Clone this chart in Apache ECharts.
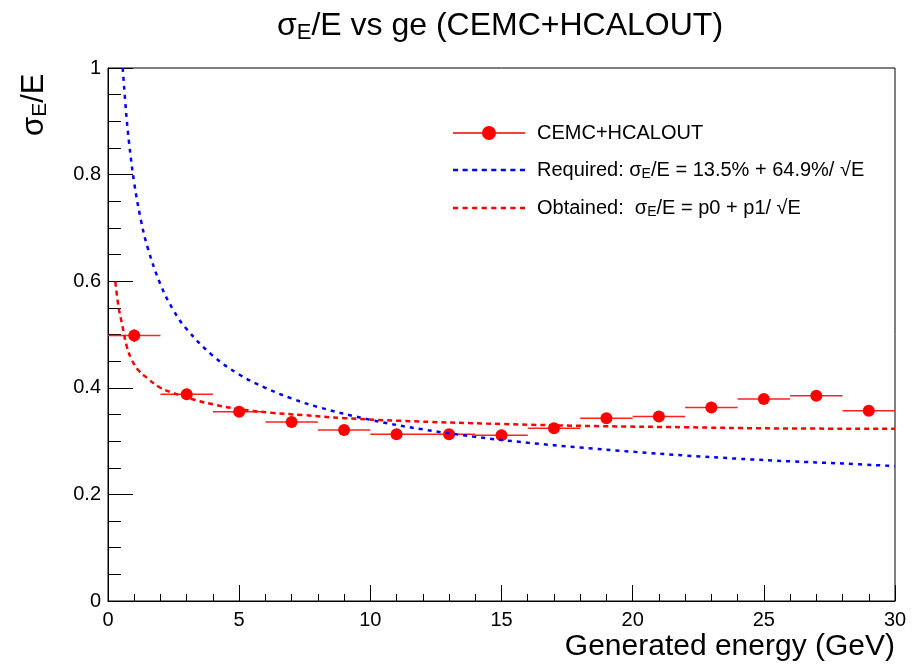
<!DOCTYPE html>
<html>
<head>
<meta charset="utf-8">
<script src="https://cdn.jsdelivr.net/npm/echarts@6/dist/echarts.min.js"></script>
<style>html,body{margin:0;padding:0;background:#fff}#c{width:923px;height:669px}</style>
</head>
<body>
<div id="c"></div>
<script>
// ---- data ----
const energies = [1, 3, 5, 7, 9, 11, 13, 15, 17, 19, 21, 23, 25, 27, 29];
const sigmaOverE = [0.498, 0.388, 0.355, 0.336, 0.321, 0.313, 0.313, 0.311, 0.324, 0.343, 0.346, 0.363, 0.379, 0.385, 0.357];
const xErr = [1, 1, 1, 1, 1, 1, 1, 1, 1, 1, 1, 1, 1, 1, 1];
const yErr = [0.012, 0.010, 0.009, 0.009, 0.009, 0.009, 0.009, 0.009, 0.009, 0.009, 0.009, 0.010, 0.010, 0.010, 0.010];

const requiredE = [0.56, 0.7, 0.8, 1.0, 1.25, 1.5, 2, 2.5, 3, 4, 5, 6, 7, 8, 10, 12, 14, 16, 18, 20, 22, 24, 26, 28, 30];
const requiredY = [1.0, 0.911, 0.861, 0.784, 0.716, 0.665, 0.594, 0.545, 0.510, 0.460, 0.425, 0.400, 0.380, 0.364, 0.340, 0.322, 0.308, 0.297, 0.288, 0.280, 0.273, 0.267, 0.262, 0.258, 0.253];

const obtainedE = [0.28, 0.4, 0.53, 0.72, 0.91, 1.16, 1.5, 1.93, 2.44, 3.33, 4.1, 5, 6.25, 7.4, 9, 11.2, 15, 18.8, 22, 25, 30];
const obtainedY = [0.599, 0.552, 0.521, 0.477, 0.452, 0.433, 0.418, 0.402, 0.391, 0.377, 0.368, 0.360, 0.353, 0.349, 0.343, 0.338, 0.332, 0.328, 0.326, 0.324, 0.323];

const xTicks = [0, 5, 10, 15, 20, 25, 30];
const yTicks = [0, 0.2, 0.4, 0.6, 0.8, 1];

const names = ['CEMC+HCALOUT', 'Required', 'Obtained'];
const legendTexts = {
  'CEMC+HCALOUT': '{t|CEMC+HCALOUT}',
  'Required': '{t|Required: σ}{s|E}{t|/E = 13.5% + 64.9%/ √E}',
  'Obtained': '{t|Obtained:  σ}{s|E}{t|/E = p0 + p1/ √E}'
};

// ---- build ----
const FONT = '"Liberation Sans", Arial, Helvetica, sans-serif';
const pointData = energies.map((e, i) => [e, sigmaOverE[i], e - xErr[i], e + xErr[i], yErr[i]]);
const reqData = requiredE.map((e, i) => [e, requiredY[i]]);
const obtData = obtainedE.map((e, i) => [e, obtainedY[i]]);

const chart = echarts.init(document.getElementById('c'), null, {renderer: 'canvas'});
const markerIcon = 'path://M0,6.3 L72,6.3 L72,7.7 L0,7.7 Z M29,7 A7,7 0 1,1 43,7 A7,7 0 1,1 29,7 Z';
let dashIcon = 'path://';
for (let i = 0; i < 8; i++) {
  const x0 = i * 9.4;
  dashIcon += 'M' + x0 + ',0 L' + (x0 + 5) + ',0 L' + (x0 + 5) + ',2.6 L' + x0 + ',2.6 Z ';
}

chart.setOption({
  backgroundColor: '#fff',
  animation: false,
  title: {
    text: '{a|σ}{b|E}{a|/E vs ge (CEMC+HCALOUT)}',
    left: 272, top: 4,
    textStyle: {
      rich: {
        a: {fontSize: 32, fontFamily: FONT, fontWeight: 'normal', color: '#000', lineHeight: 35},
        b: {fontSize: 22, fontFamily: FONT, fontWeight: 'normal', color: '#000', lineHeight: 12, verticalAlign: 'bottom'}
      }
    }
  },
  grid: {left: 108, right: 28, top: 68, bottom: 68, show: true, borderColor: '#000', borderWidth: 1, backgroundColor: 'transparent'},
  legend: {
    orient: 'vertical', left: 448, top: 118, itemWidth: 72, itemHeight: 14, itemGap: 17,
    data: [
      {name: names[0], icon: markerIcon},
      {name: names[1], icon: dashIcon},
      {name: names[2], icon: dashIcon}
    ],
    formatter: name => legendTexts[name],
    textStyle: {
      padding: [0, 0, 0, 7],
      rich: {
        t: {fontSize: 20, fontFamily: FONT, color: '#000', lineHeight: 22},
        s: {fontSize: 14, fontFamily: FONT, color: '#000', lineHeight: 8, verticalAlign: 'bottom'}
      }
    }
  },
  xAxis: {
    type: 'value', min: xTicks[0], max: xTicks[xTicks.length - 1], interval: 5,
    name: 'Generated energy (GeV)', nameLocation: 'end', nameGap: 0,
    nameTextStyle: {fontSize: 30, fontFamily: FONT, color: '#000', align: 'right', verticalAlign: 'top', padding: [31, 0, 0, 0]},
    axisLine: {lineStyle: {color: '#000', width: 1}},
    axisTick: {inside: true, length: 16, lineStyle: {color: '#000'}},
    minorTick: {show: true, splitNumber: 5, length: 7, lineStyle: {color: '#000'}},
    splitLine: {show: false},
    axisLabel: {fontSize: 20, fontFamily: FONT, color: '#000', margin: 9}
  },
  yAxis: {
    type: 'value', min: yTicks[0], max: yTicks[yTicks.length - 1], interval: 0.2,
    axisLine: {show: true, lineStyle: {color: '#000', width: 1}},
    axisTick: {show: true, inside: true, length: 25, lineStyle: {color: '#000'}},
    minorTick: {show: true, splitNumber: 4, length: 13, lineStyle: {color: '#000'}},
    splitLine: {show: false},
    axisLabel: {fontSize: 20, fontFamily: FONT, color: '#000', margin: 7,
      formatter: v => (v === 0 || v === 1) ? String(v) : v.toFixed(1)}
  },
  graphic: [{
    type: 'text', x: 17, y: 136, rotation: Math.PI / 2,
    style: {
      text: '{a|σ}{b|E}{a|/E}', align: 'left', verticalAlign: 'top',
      rich: {
        a: {fontSize: 31, fontFamily: FONT, fill: '#000', lineHeight: 34},
        b: {fontSize: 21, fontFamily: FONT, fill: '#000', lineHeight: 12, verticalAlign: 'bottom'}
      }
    }
  }],
  series: [
    {
      name: names[0], type: 'custom', data: pointData, itemStyle: {color: '#ff0000'},
      encode: {x: [0, 2, 3], y: 1},
      renderItem: function (params, api) {
        const x = api.value(0), y = api.value(1), xl = api.value(2), xh = api.value(3), ey = api.value(4);
        const p = api.coord([x, y]), a = api.coord([xl, y]), b = api.coord([xh, y]);
        const c = api.coord([x, y - ey]), d = api.coord([x, y + ey]);
        return {type: 'group', children: [
          {type: 'line', shape: {x1: a[0], y1: a[1], x2: b[0], y2: b[1]}, style: {stroke: '#ff2020', lineWidth: 1.5}},
          {type: 'line', shape: {x1: c[0], y1: c[1], x2: d[0], y2: d[1]}, style: {stroke: '#ff0000', lineWidth: 1.5}},
          {type: 'circle', shape: {cx: p[0], cy: p[1], r: 6}, style: {fill: '#ff0000'}}
        ]};
      }
    },
    {
      name: names[1], type: 'line', data: reqData, smooth: 0.4, symbol: 'none',
      itemStyle: {color: '#0000ff'},
      lineStyle: {color: '#0000ff', width: 2.5, type: [4, 5]}
    },
    {
      name: names[2], type: 'line', data: obtData, smooth: 0.4, symbol: 'none',
      itemStyle: {color: '#ff0000'},
      lineStyle: {color: '#ff0000', width: 2.5, type: [5, 4]}
    }
  ]
});
</script>
</body>
</html>
